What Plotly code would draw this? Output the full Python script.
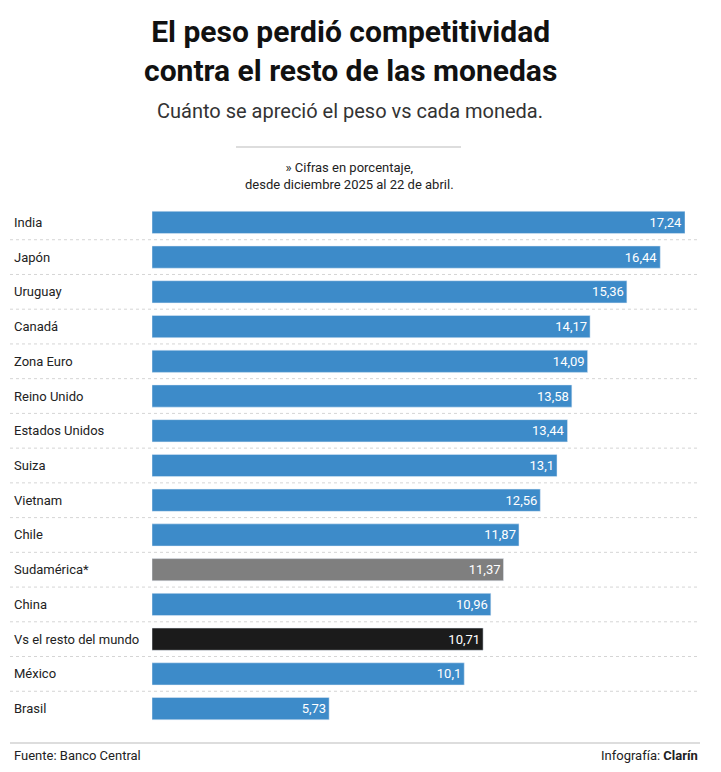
import plotly.graph_objects as go

paises = ["India", "Japón", "Uruguay", "Canadá", "Zona Euro", "Reino Unido", "Estados Unidos",
          "Suiza", "Vietnam", "Chile", "Sudamérica*", "China", "Vs el resto del mundo", "México", "Brasil"]
valores = [17.24, 16.44, 15.36, 14.17, 14.09, 13.58, 13.44, 13.1, 12.56, 11.87, 11.37, 10.96, 10.71, 10.1, 5.73]

W, H = 721, 772
OFF = 8  # page body offset
L, R, T, B = 152 - OFF, 36 + OFF, 205 - OFF, 46 + OFF
pw = W - L - R
ph = H - T - B

colores = []
for p in paises:
    if p == "Sudamérica*":
        colores.append("#7f7f7f")
    elif p == "Vs el resto del mundo":
        colores.append("#1b1b1b")
    else:
        colores.append("#3d8bc9")

etiquetas = [str(v).replace(".", ",") for v in valores]

fig = go.Figure(go.Bar(
    x=valores, y=paises, orientation="h", marker_color=colores, width=0.64,
    text=etiquetas, textposition="inside", insidetextanchor="end",
    textfont=dict(color="white", size=13, family="Roboto"), hoverinfo="skip",
))

fig.update_xaxes(range=[0, max(valores)], visible=False)
fig.update_yaxes(autorange="reversed", showticklabels=False, showgrid=False)

fx = lambda px: (px - OFF - L) / pw
fy = lambda py: 1 - (py - OFF - T) / ph

shapes = []
for i in range(len(paises) - 1):
    shapes.append(dict(type="line", xref="paper", yref="y", x0=fx(10), x1=fx(700),
                       y0=i + 0.5, y1=i + 0.5, line=dict(color="#d5d5d5", width=1, dash="dot")))
shapes.append(dict(type="line", xref="paper", yref="paper", x0=fx(236), x1=fx(461),
                   y0=fy(147), y1=fy(147), line=dict(color="#bbbbbb", width=1)))
shapes.append(dict(type="line", xref="paper", yref="paper", x0=fx(10), x1=fx(700),
                   y0=fy(743), y1=fy(743), line=dict(color="#bbbbbb", width=1)))

ann = []
for p in paises:
    ann.append(dict(x=fx(12), y=p, xref="paper", yref="y", text=p, showarrow=False,
                    xanchor="left", font=dict(size=13, color="#222", family="Roboto")))
ann += [
    dict(x=fx(350), y=fy(51), text="<b>El peso perdió competitividad<br>contra el resto de las monedas</b>",
         font=dict(size=30, color="#111", family="Roboto"), showarrow=False),
    dict(x=fx(350), y=fy(111), text="Cuánto se apreció el peso vs cada moneda.",
         font=dict(size=20, color="#333", family="Roboto"), showarrow=False),
    dict(x=fx(349), y=fy(176), text="» Cifras en porcentaje,<br>desde diciembre 2025 al 22 de abril.",
         font=dict(size=13, color="#222", family="Roboto"), showarrow=False),
    dict(x=fx(12), y=fy(755), xanchor="left", text="Fuente: Banco Central",
         font=dict(size=13, color="#222", family="Roboto"), showarrow=False),
    dict(x=fx(700), y=fy(755), xanchor="right", text="Infografía: <b>Clarín</b>",
         font=dict(size=13, color="#222", family="Roboto"), showarrow=False),
]
for a in ann:
    a.setdefault("xref", "paper")
    a.setdefault("yref", "paper")
    a.setdefault("xanchor", "center")
    a.setdefault("yanchor", "middle")

fig.update_layout(width=W, height=H, margin=dict(l=L, r=R, t=T, b=B),
                  plot_bgcolor="white", paper_bgcolor="white", showlegend=False,
                  shapes=shapes, annotations=ann, bargap=0.36)
fig.write_html("out.html")
